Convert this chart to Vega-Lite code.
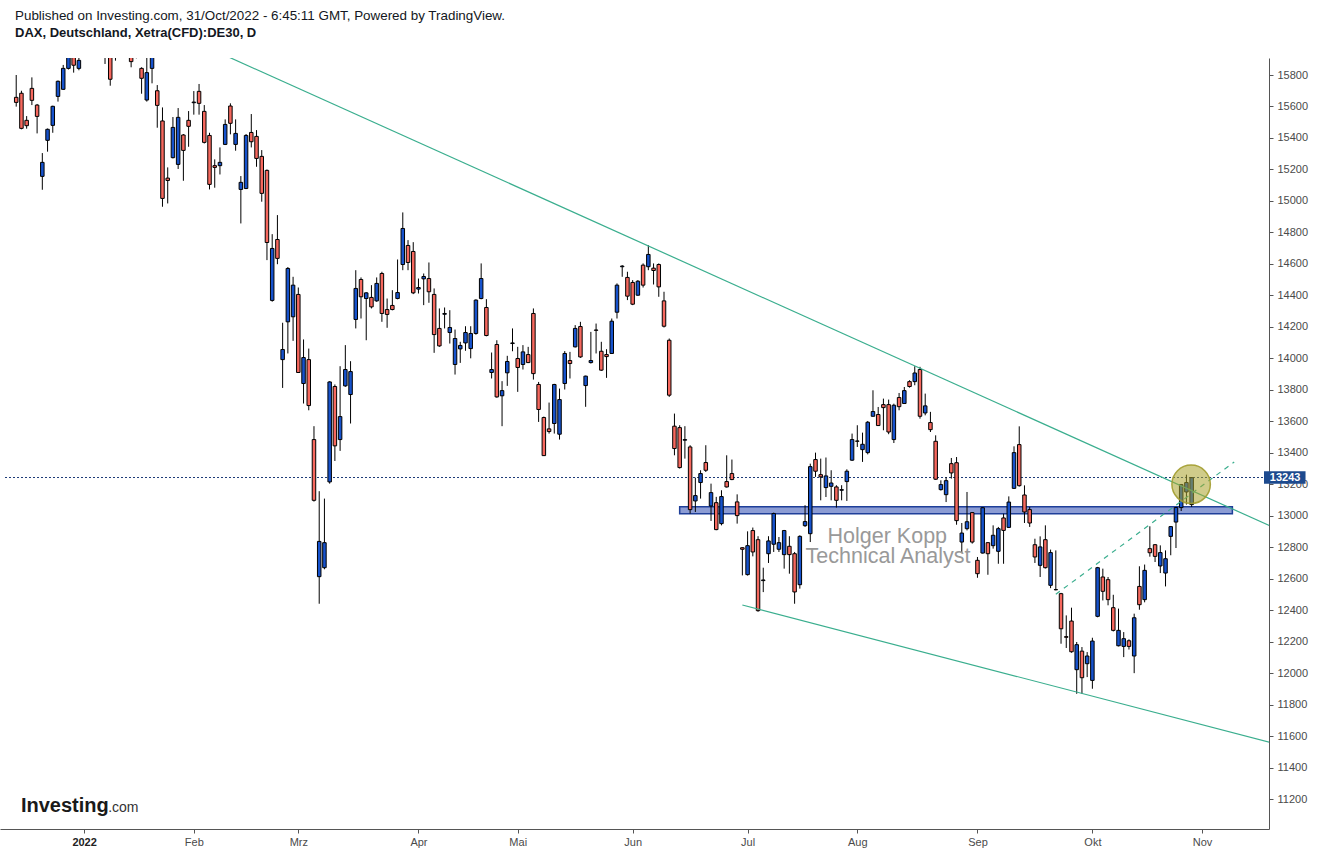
{
"$schema": "https://vega.github.io/schema/vega-lite/v6.json",
"width": 1269,
"height": 771,
"autosize": {"type": "none"},
"padding": {"left": 0, "top": 58, "right": 49, "bottom": 24},
"background": "white",
"title": {"text": "Published on Investing.com, 31/Oct/2022 - 6:45:11 GMT, Powered by TradingView.", "subtitle": "DAX, Deutschland, Xetra(CFD):DE30, D", "anchor": "start", "frame": "group", "dx": 15, "offset": 18, "font": "Liberation Sans", "fontSize": 13.4, "fontWeight": "normal", "color": "#131722", "subtitleFont": "Liberation Sans", "subtitleFontSize": 13, "subtitleFontWeight": "bold", "subtitleColor": "#131722", "subtitlePadding": 5},
"config": {"view": {"stroke": null}, "font": "Liberation Sans", "numberFormat": "d",
 "axis": {"grid": false, "title": null, "labelOverlap": false, "labelFlush": false, "labelFont": "Liberation Sans", "labelFontSize": 11, "labelColor": "#4a4a4a", "domainColor": "#555555", "tickColor": "#555555", "tickSize": 4},
 "axisY": {"labelPadding": 4},
 "axisX": {"labelPadding": 3}},
"datasets": {
"candles": [
{"d":"2021-12-13","i":0,"o":15658,"h":15800,"l":15599,"c":15626},
{"d":"2021-12-14","i":1,"o":15684,"h":15700,"l":15455,"c":15461},
{"d":"2021-12-15","i":2,"o":15512,"h":15539,"l":15459,"c":15478},
{"d":"2021-12-16","i":3,"o":15715,"h":15785,"l":15609,"c":15639},
{"d":"2021-12-17","i":4,"o":15609,"h":15616,"l":15429,"c":15537},
{"d":"2021-12-20","i":5,"o":15156,"h":15304,"l":15071,"c":15245},
{"d":"2021-12-21","i":6,"o":15385,"h":15460,"l":15313,"c":15455},
{"d":"2021-12-22","i":7,"o":15480,"h":15605,"l":15433,"c":15601},
{"d":"2021-12-23","i":8,"o":15664,"h":15765,"l":15631,"c":15760},
{"d":"2021-12-27","i":9,"o":15709,"h":15864,"l":15705,"c":15842},
{"d":"2021-12-28","i":10,"o":15842,"h":16000,"l":15835,"c":15964},
{"d":"2021-12-29","i":11,"o":15965,"h":16000,"l":15815,"c":15862},
{"d":"2021-12-30","i":12,"o":15842,"h":15960,"l":15830,"c":15893},
{"d":"2022-01-03","i":13,"o":15950,"h":16045,"l":15930,"c":16021},
{"d":"2022-01-04","i":14,"o":16060,"h":16200,"l":16040,"c":16152},
{"d":"2022-01-05","i":15,"o":16160,"h":16285,"l":16150,"c":16271},
{"d":"2022-01-06","i":16,"o":16200,"h":16220,"l":15980,"c":16052},
{"d":"2022-01-07","i":17,"o":16050,"h":16080,"l":15870,"c":15948},
{"d":"2022-01-10","i":18,"o":15950,"h":16000,"l":15732,"c":15773},
{"d":"2022-01-11","i":19,"o":15920,"h":15980,"l":15891,"c":15942},
{"d":"2022-01-12","i":20,"o":15990,"h":16080,"l":15960,"c":16010},
{"d":"2022-01-13","i":21,"o":16050,"h":16100,"l":15990,"c":16031},
{"d":"2022-01-14","i":22,"o":15990,"h":16010,"l":15849,"c":15885},
{"d":"2022-01-17","i":23,"o":15920,"h":15970,"l":15906,"c":15933},
{"d":"2022-01-18","i":24,"o":15842,"h":15849,"l":15681,"c":15779},
{"d":"2022-01-19","i":25,"o":15641,"h":15970,"l":15631,"c":15815},
{"d":"2022-01-20","i":26,"o":15842,"h":15960,"l":15747,"c":15912},
{"d":"2022-01-21","i":27,"o":15700,"h":15736,"l":15465,"c":15607},
{"d":"2022-01-24","i":28,"o":15508,"h":15594,"l":14963,"c":15016},
{"d":"2022-01-25","i":29,"o":15145,"h":15213,"l":14984,"c":15130},
{"d":"2022-01-26","i":30,"o":15275,"h":15533,"l":15270,"c":15467},
{"d":"2022-01-27","i":31,"o":15232,"h":15590,"l":15203,"c":15531},
{"d":"2022-01-28","i":32,"o":15419,"h":15425,"l":15128,"c":15321},
{"d":"2022-01-31","i":33,"o":15512,"h":15571,"l":15344,"c":15474},
{"d":"2022-02-01","i":34,"o":15624,"h":15698,"l":15548,"c":15628},
{"d":"2022-02-02","i":35,"o":15696,"h":15743,"l":15548,"c":15620},
{"d":"2022-02-03","i":36,"o":15569,"h":15609,"l":15365,"c":15372},
{"d":"2022-02-04","i":37,"o":15416,"h":15433,"l":15073,"c":15105},
{"d":"2022-02-07","i":38,"o":15224,"h":15264,"l":15084,"c":15213},
{"d":"2022-02-08","i":39,"o":15224,"h":15340,"l":15168,"c":15245},
{"d":"2022-02-09","i":40,"o":15359,"h":15518,"l":15355,"c":15486},
{"d":"2022-02-10","i":41,"o":15603,"h":15620,"l":15423,"c":15493},
{"d":"2022-02-11","i":42,"o":15359,"h":15518,"l":15319,"c":15429},
{"d":"2022-02-14","i":43,"o":15073,"h":15158,"l":14857,"c":15118},
{"d":"2022-02-15","i":44,"o":15079,"h":15425,"l":15075,"c":15416},
{"d":"2022-02-16","i":45,"o":15435,"h":15552,"l":15340,"c":15376},
{"d":"2022-02-17","i":46,"o":15410,"h":15450,"l":15217,"c":15270},
{"d":"2022-02-18","i":47,"o":15283,"h":15323,"l":14995,"c":15048},
{"d":"2022-02-21","i":48,"o":15194,"h":15200,"l":14624,"c":14736},
{"d":"2022-02-22","i":49,"o":14368,"h":14789,"l":14360,"c":14698},
{"d":"2022-02-23","i":50,"o":14755,"h":14910,"l":14598,"c":14635},
{"d":"2022-02-24","i":51,"o":13992,"h":14226,"l":13812,"c":14056},
{"d":"2022-02-25","i":52,"o":14232,"h":14580,"l":14031,"c":14571},
{"d":"2022-02-28","i":53,"o":14264,"h":14518,"l":14111,"c":14465},
{"d":"2022-03-01","i":54,"o":14406,"h":14450,"l":13908,"c":13910},
{"d":"2022-03-02","i":55,"o":13840,"h":14120,"l":13713,"c":14005},
{"d":"2022-03-03","i":56,"o":13992,"h":14062,"l":13670,"c":13700},
{"d":"2022-03-04","i":57,"o":13484,"h":13569,"l":13090,"c":13098},
{"d":"2022-03-07","i":58,"o":12613,"h":13156,"l":12441,"c":12837},
{"d":"2022-03-08","i":59,"o":12670,"h":13109,"l":12660,"c":12829},
{"d":"2022-03-09","i":60,"o":13215,"h":13855,"l":13204,"c":13850},
{"d":"2022-03-10","i":61,"o":13821,"h":13834,"l":13348,"c":13444},
{"d":"2022-03-11","i":62,"o":13484,"h":13950,"l":13412,"c":13630},
{"d":"2022-03-14","i":63,"o":13825,"h":14084,"l":13819,"c":13929},
{"d":"2022-03-15","i":64,"o":13770,"h":13982,"l":13586,"c":13916},
{"d":"2022-03-16","i":65,"o":14247,"h":14560,"l":14190,"c":14444},
{"d":"2022-03-17","i":66,"o":14501,"h":14514,"l":14253,"c":14391},
{"d":"2022-03-18","i":67,"o":14380,"h":14420,"l":14115,"c":14416},
{"d":"2022-03-21","i":68,"o":14387,"h":14465,"l":14317,"c":14327},
{"d":"2022-03-22","i":69,"o":14365,"h":14514,"l":14359,"c":14476},
{"d":"2022-03-23","i":70,"o":14539,"h":14550,"l":14232,"c":14285},
{"d":"2022-03-24","i":71,"o":14310,"h":14380,"l":14194,"c":14279},
{"d":"2022-03-25","i":72,"o":14336,"h":14433,"l":14305,"c":14310},
{"d":"2022-03-28","i":73,"o":14380,"h":14628,"l":14375,"c":14418},
{"d":"2022-03-29","i":74,"o":14596,"h":14927,"l":14560,"c":14825},
{"d":"2022-03-30","i":75,"o":14717,"h":14751,"l":14560,"c":14609},
{"d":"2022-03-31","i":76,"o":14679,"h":14738,"l":14408,"c":14416},
{"d":"2022-04-01","i":77,"o":14440,"h":14507,"l":14412,"c":14450},
{"d":"2022-04-04","i":78,"o":14505,"h":14539,"l":14338,"c":14520},
{"d":"2022-04-05","i":79,"o":14507,"h":14609,"l":14353,"c":14423},
{"d":"2022-04-06","i":80,"o":14406,"h":14444,"l":14035,"c":14151},
{"d":"2022-04-07","i":81,"o":14190,"h":14317,"l":14073,"c":14079},
{"d":"2022-04-08","i":82,"o":14280,"h":14323,"l":14190,"c":14285},
{"d":"2022-04-11","i":83,"o":14164,"h":14306,"l":14094,"c":14196},
{"d":"2022-04-12","i":84,"o":13961,"h":14183,"l":13897,"c":14126},
{"d":"2022-04-13","i":85,"o":14060,"h":14105,"l":13971,"c":14082},
{"d":"2022-04-14","i":86,"o":14098,"h":14204,"l":14048,"c":14164},
{"d":"2022-04-19","i":87,"o":14062,"h":14204,"l":14000,"c":14158},
{"d":"2022-04-20","i":88,"o":14158,"h":14375,"l":14150,"c":14370},
{"d":"2022-04-21","i":89,"o":14380,"h":14603,"l":14375,"c":14507},
{"d":"2022-04-22","i":90,"o":14323,"h":14376,"l":14140,"c":14145},
{"d":"2022-04-25","i":91,"o":13910,"h":14037,"l":13872,"c":13929},
{"d":"2022-04-26","i":92,"o":14088,"h":14115,"l":13750,"c":13755},
{"d":"2022-04-27","i":93,"o":13762,"h":13855,"l":13569,"c":13795},
{"d":"2022-04-28","i":94,"o":13908,"h":14016,"l":13825,"c":13980},
{"d":"2022-04-29","i":95,"o":14094,"h":14190,"l":14045,"c":14098},
{"d":"2022-05-02","i":96,"o":13999,"h":14073,"l":13787,"c":13942},
{"d":"2022-05-03","i":97,"o":13961,"h":14084,"l":13929,"c":14041},
{"d":"2022-05-04","i":98,"o":14024,"h":14073,"l":13970,"c":13973},
{"d":"2022-05-05","i":99,"o":14285,"h":14317,"l":13865,"c":13903},
{"d":"2022-05-06","i":100,"o":13834,"h":13850,"l":13596,"c":13675},
{"d":"2022-05-09","i":101,"o":13624,"h":13630,"l":13380,"c":13382},
{"d":"2022-05-10","i":102,"o":13552,"h":13719,"l":13522,"c":13535},
{"d":"2022-05-11","i":103,"o":13586,"h":13838,"l":13522,"c":13834},
{"d":"2022-05-12","i":104,"o":13518,"h":13808,"l":13484,"c":13738},
{"d":"2022-05-13","i":105,"o":13840,"h":14046,"l":13802,"c":14031},
{"d":"2022-05-16","i":106,"o":13986,"h":14041,"l":13872,"c":13967},
{"d":"2022-05-17","i":107,"o":14073,"h":14211,"l":14069,"c":14190},
{"d":"2022-05-18","i":108,"o":14202,"h":14232,"l":14003,"c":14009},
{"d":"2022-05-19","i":109,"o":13827,"h":13890,"l":13692,"c":13887},
{"d":"2022-05-20","i":110,"o":13973,"h":14168,"l":13967,"c":13986},
{"d":"2022-05-23","i":111,"o":14180,"h":14221,"l":14031,"c":14178},
{"d":"2022-05-24","i":112,"o":14045,"h":14105,"l":13920,"c":13925},
{"d":"2022-05-25","i":113,"o":14024,"h":14058,"l":13876,"c":14011},
{"d":"2022-05-26","i":114,"o":14031,"h":14253,"l":14028,"c":14236},
{"d":"2022-05-27","i":115,"o":14293,"h":14476,"l":14253,"c":14465},
{"d":"2022-05-30","i":116,"o":14582,"h":14592,"l":14518,"c":14586},
{"d":"2022-05-31","i":117,"o":14514,"h":14550,"l":14370,"c":14395},
{"d":"2022-06-01","i":118,"o":14482,"h":14497,"l":14338,"c":14344},
{"d":"2022-06-02","i":119,"o":14401,"h":14497,"l":14398,"c":14490},
{"d":"2022-06-03","i":120,"o":14592,"h":14603,"l":14450,"c":14465},
{"d":"2022-06-06","i":121,"o":14582,"h":14719,"l":14560,"c":14660},
{"d":"2022-06-07","i":122,"o":14573,"h":14603,"l":14469,"c":14558},
{"d":"2022-06-08","i":123,"o":14596,"h":14603,"l":14391,"c":14454},
{"d":"2022-06-09","i":124,"o":14365,"h":14423,"l":14196,"c":14204},
{"d":"2022-06-10","i":125,"o":14115,"h":14126,"l":13755,"c":13766},
{"d":"2022-06-13","i":126,"o":13569,"h":13649,"l":13384,"c":13427},
{"d":"2022-06-14","i":127,"o":13560,"h":13575,"l":13300,"c":13306},
{"d":"2022-06-15","i":128,"o":13480,"h":13569,"l":13363,"c":13484},
{"d":"2022-06-16","i":129,"o":13437,"h":13448,"l":13014,"c":13039},
{"d":"2022-06-17","i":130,"o":13094,"h":13242,"l":13024,"c":13128},
{"d":"2022-06-20","i":131,"o":13211,"h":13289,"l":13109,"c":13268},
{"d":"2022-06-21","i":132,"o":13338,"h":13448,"l":13278,"c":13289},
{"d":"2022-06-22","i":133,"o":13062,"h":13204,"l":12967,"c":13147},
{"d":"2022-06-23","i":134,"o":13083,"h":13120,"l":12908,"c":12912},
{"d":"2022-06-24","i":135,"o":12950,"h":13162,"l":12939,"c":13122},
{"d":"2022-06-27","i":136,"o":13217,"h":13384,"l":13179,"c":13183},
{"d":"2022-06-28","i":137,"o":13268,"h":13357,"l":13226,"c":13230},
{"d":"2022-06-29","i":138,"o":13088,"h":13136,"l":12950,"c":13001},
{"d":"2022-06-30","i":139,"o":12797,"h":12800,"l":12621,"c":12787},
{"d":"2022-07-01","i":140,"o":12626,"h":12901,"l":12620,"c":12810},
{"d":"2022-07-04","i":141,"o":12906,"h":12925,"l":12742,"c":12770},
{"d":"2022-07-05","i":142,"o":12848,"h":12870,"l":12390,"c":12397},
{"d":"2022-07-06","i":143,"o":12588,"h":12670,"l":12515,"c":12592},
{"d":"2022-07-07","i":144,"o":12759,"h":12870,"l":12700,"c":12840},
{"d":"2022-07-08","i":145,"o":12819,"h":13020,"l":12770,"c":13014},
{"d":"2022-07-11","i":146,"o":12787,"h":12865,"l":12770,"c":12829},
{"d":"2022-07-12","i":147,"o":12753,"h":12910,"l":12664,"c":12906},
{"d":"2022-07-13","i":148,"o":12806,"h":12870,"l":12632,"c":12753},
{"d":"2022-07-14","i":149,"o":12759,"h":12770,"l":12441,"c":12516},
{"d":"2022-07-15","i":150,"o":12562,"h":12876,"l":12537,"c":12869},
{"d":"2022-07-18","i":151,"o":12937,"h":13067,"l":12929,"c":12963},
{"d":"2022-07-19","i":152,"o":12886,"h":13331,"l":12833,"c":13312},
{"d":"2022-07-20","i":153,"o":13357,"h":13401,"l":13247,"c":13283},
{"d":"2022-07-21","i":154,"o":13261,"h":13363,"l":13098,"c":13247},
{"d":"2022-07-22","i":155,"o":13179,"h":13370,"l":13119,"c":13253},
{"d":"2022-07-25","i":156,"o":13187,"h":13289,"l":13098,"c":13208},
{"d":"2022-07-26","i":157,"o":13183,"h":13194,"l":13052,"c":13098},
{"d":"2022-07-27","i":158,"o":13162,"h":13194,"l":13098,"c":13166},
{"d":"2022-07-28","i":159,"o":13217,"h":13295,"l":13094,"c":13283},
{"d":"2022-07-29","i":160,"o":13353,"h":13522,"l":13348,"c":13484},
{"d":"2022-08-01","i":161,"o":13475,"h":13575,"l":13437,"c":13473},
{"d":"2022-08-02","i":162,"o":13420,"h":13528,"l":13342,"c":13454},
{"d":"2022-08-03","i":163,"o":13401,"h":13602,"l":13390,"c":13594},
{"d":"2022-08-04","i":164,"o":13632,"h":13797,"l":13630,"c":13662},
{"d":"2022-08-05","i":165,"o":13643,"h":13691,"l":13570,"c":13573},
{"d":"2022-08-08","i":166,"o":13706,"h":13744,"l":13543,"c":13687},
{"d":"2022-08-09","i":167,"o":13706,"h":13738,"l":13518,"c":13532},
{"d":"2022-08-10","i":168,"o":13484,"h":13712,"l":13462,"c":13702},
{"d":"2022-08-11","i":169,"o":13751,"h":13780,"l":13670,"c":13693},
{"d":"2022-08-12","i":170,"o":13713,"h":13818,"l":13710,"c":13795},
{"d":"2022-08-15","i":171,"o":13852,"h":13861,"l":13814,"c":13821},
{"d":"2022-08-16","i":172,"o":13852,"h":13950,"l":13829,"c":13907},
{"d":"2022-08-17","i":173,"o":13929,"h":13946,"l":13617,"c":13632},
{"d":"2022-08-18","i":174,"o":13653,"h":13776,"l":13638,"c":13698},
{"d":"2022-08-19","i":175,"o":13592,"h":13660,"l":13532,"c":13547},
{"d":"2022-08-22","i":176,"o":13473,"h":13511,"l":13228,"c":13232},
{"d":"2022-08-23","i":177,"o":13166,"h":13225,"l":13160,"c":13198},
{"d":"2022-08-24","i":178,"o":13134,"h":13246,"l":13087,"c":13223},
{"d":"2022-08-25","i":179,"o":13331,"h":13367,"l":13236,"c":13272},
{"d":"2022-08-26","i":180,"o":13337,"h":13373,"l":12943,"c":12969},
{"d":"2022-08-29","i":181,"o":12833,"h":12954,"l":12763,"c":12890},
{"d":"2022-08-30","i":182,"o":12918,"h":13151,"l":12907,"c":12962},
{"d":"2022-08-31","i":183,"o":13020,"h":13024,"l":12823,"c":12833},
{"d":"2022-09-01","i":184,"o":12717,"h":12738,"l":12606,"c":12632},
{"d":"2022-09-02","i":185,"o":12763,"h":13055,"l":12760,"c":13051},
{"d":"2022-09-05","i":186,"o":12829,"h":12833,"l":12625,"c":12759},
{"d":"2022-09-06","i":187,"o":12810,"h":12939,"l":12791,"c":12876},
{"d":"2022-09-07","i":188,"o":12774,"h":12929,"l":12695,"c":12918},
{"d":"2022-09-08","i":189,"o":12986,"h":13013,"l":12695,"c":12907},
{"d":"2022-09-09","i":190,"o":12926,"h":13123,"l":12922,"c":13087},
{"d":"2022-09-12","i":191,"o":13174,"h":13441,"l":13170,"c":13401},
{"d":"2022-09-13","i":192,"o":13452,"h":13568,"l":13185,"c":13191},
{"d":"2022-09-14","i":193,"o":13132,"h":13193,"l":12954,"c":13024},
{"d":"2022-09-15","i":194,"o":13039,"h":13056,"l":12929,"c":12954},
{"d":"2022-09-16","i":195,"o":12816,"h":12854,"l":12700,"c":12738},
{"d":"2022-09-19","i":196,"o":12685,"h":12869,"l":12611,"c":12802},
{"d":"2022-09-20","i":197,"o":12848,"h":12939,"l":12665,"c":12670},
{"d":"2022-09-21","i":198,"o":12558,"h":12785,"l":12540,"c":12766},
{"d":"2022-09-22","i":199,"o":12531,"h":12780,"l":12526,"c":12530},
{"d":"2022-09-23","i":200,"o":12505,"h":12510,"l":12187,"c":12282},
{"d":"2022-09-26","i":201,"o":12232,"h":12367,"l":12160,"c":12228},
{"d":"2022-09-27","i":202,"o":12331,"h":12416,"l":12130,"c":12136},
{"d":"2022-09-28","i":203,"o":12022,"h":12198,"l":11869,"c":12181},
{"d":"2022-09-29","i":204,"o":12140,"h":12166,"l":11869,"c":11971},
{"d":"2022-09-30","i":205,"o":12060,"h":12134,"l":11975,"c":12109},
{"d":"2022-10-03","i":206,"o":11954,"h":12225,"l":11901,"c":12204},
{"d":"2022-10-04","i":207,"o":12361,"h":12675,"l":12355,"c":12670},
{"d":"2022-10-05","i":208,"o":12611,"h":12664,"l":12462,"c":12520},
{"d":"2022-10-06","i":209,"o":12594,"h":12611,"l":12431,"c":12467},
{"d":"2022-10-07","i":210,"o":12416,"h":12498,"l":12265,"c":12272},
{"d":"2022-10-10","i":211,"o":12174,"h":12410,"l":12170,"c":12272},
{"d":"2022-10-11","i":212,"o":12170,"h":12261,"l":12102,"c":12219},
{"d":"2022-10-12","i":213,"o":12206,"h":12215,"l":12150,"c":12170},
{"d":"2022-10-13","i":214,"o":12109,"h":12378,"l":12000,"c":12352},
{"d":"2022-10-14","i":215,"o":12551,"h":12679,"l":12403,"c":12435},
{"d":"2022-10-17","i":216,"o":12467,"h":12690,"l":12450,"c":12653},
{"d":"2022-10-18","i":217,"o":12791,"h":12933,"l":12740,"c":12765},
{"d":"2022-10-19","i":218,"o":12816,"h":12820,"l":12706,"c":12742},
{"d":"2022-10-20","i":219,"o":12681,"h":12812,"l":12636,"c":12766},
{"d":"2022-10-21","i":220,"o":12636,"h":12780,"l":12551,"c":12727},
{"d":"2022-10-24","i":221,"o":12869,"h":12935,"l":12749,"c":12931},
{"d":"2022-10-25","i":222,"o":12960,"h":13056,"l":12795,"c":13052},
{"d":"2022-10-26","i":223,"o":13052,"h":13202,"l":13030,"c":13198},
{"d":"2022-10-27","i":224,"o":13151,"h":13261,"l":13071,"c":13211},
{"d":"2022-10-28","i":225,"o":13071,"h":13246,"l":13056,"c":13242}
],
"trend": [
{"g":"upper","i":35,"p":15999},
{"g":"upper","i":245,"p":12861},
{"g":"lower","i":139,"p":12433},
{"g":"lower","i":245,"p":11517}
],
"dashed": [
{"i":199,"p":12501},
{"i":233.15,"p":13342}
],
"zone": [{"i":127,"i2":232.8,"lo":13013,"hi":13057}],
"circle": [{"i":224.9,"p":13200}],
"watermark": [
{"t":"Holger Kopp","i":155.3,"p":12826},
{"t":"Technical Analyst","i":151.1,"p":12697}
],
"logo": [{"t":"Investing","i":0.9,"p":11115}],
"logo2": [{"t":".com","i":17.6,"p":11115}],
"last": [{"p":13243,"t":"13243"}]
},
"layer": [
{"data":{"name":"last"},"mark":{"type":"rule","color":"#1e3c78","strokeWidth":1,"strokeDash":[2,2]},
 "encoding":{
  "x":{"datum":-2.145,"type":"quantitative","scale":{"domain":[-2.145,238.85],"nice":false,"zero":false},
   "axis":{"orient":"bottom","values":[13,34,54,77,96,118,140,161,184,206,227],
   "labelExpr":"datum.value == 13 ? '2022' : datum.value == 34 ? 'Feb' : datum.value == 54 ? 'Mrz' : datum.value == 77 ? 'Apr' : datum.value == 96 ? 'Mai' : datum.value == 118 ? 'Jun' : datum.value == 140 ? 'Jul' : datum.value == 161 ? 'Aug' : datum.value == 184 ? 'Sep' : datum.value == 206 ? 'Okt' : 'Nov'",
   "labelColor":{"condition":{"test":"datum.value == 13","value":"#222222"},"value":"#4a4a4a"},"labelFontWeight":{"condition":{"test":"datum.value == 13","value":"bold"},"value":"normal"}}},
  "x2":{"datum":238.85},
  "y":{"field":"p","type":"quantitative","scale":{"domain":[11010,15908],"nice":false,"zero":false},
   "axis":{"orient":"right","format":"d","values":[11200,11400,11600,11800,12000,12200,12400,12600,12800,13000,13200,13400,13600,13800,14000,14200,14400,14600,14800,15000,15200,15400,15600,15800]}}}},
{"data":{"name":"zone"},"mark":{"type":"rect","fill":"#8c9cd4","stroke":"#1f3f99","strokeWidth":1.5,"clip":true},
 "encoding":{"x":{"field":"i","type":"quantitative"},"x2":{"field":"i2"},
  "y":{"field":"lo","type":"quantitative","axis":{"orient":"right","format":"d","values":[11200,11400,11600,11800,12000,12200,12400,12600,12800,13000,13200,13400,13600,13800,14000,14200,14400,14600,14800,15000,15200,15400,15600,15800]}},"y2":{"field":"hi"}}},
{"data":{"name":"candles"},"mark":{"type":"rule","color":"#000000","strokeWidth":1,"clip":true},
 "encoding":{"x":{"field":"i","type":"quantitative"},
  "y":{"field":"l","type":"quantitative","axis":{"orient":"right","format":"d","values":[11200,11400,11600,11800,12000,12200,12400,12600,12800,13000,13200,13400,13600,13800,14000,14200,14400,14600,14800,15000,15200,15400,15600,15800]}},"y2":{"field":"h"}}},
{"data":{"name":"candles"},"mark":{"type":"bar","size":3.5,"stroke":"#000000","strokeWidth":1,"clip":true},
 "encoding":{"x":{"field":"i","type":"quantitative"},
  "y":{"field":"o","type":"quantitative","axis":{"orient":"right","format":"d","values":[11200,11400,11600,11800,12000,12200,12400,12600,12800,13000,13200,13400,13600,13800,14000,14200,14400,14600,14800,15000,15200,15400,15600,15800]}},"y2":{"field":"c"},
  "fill":{"condition":{"test":"datum.c >= datum.o","value":"#1652cc"},"value":"#f6685e"}}},
{"data":{"name":"trend"},"mark":{"type":"line","color":"#3aae8e","strokeWidth":1.2,"clip":true},
 "encoding":{"x":{"field":"i","type":"quantitative"},
  "y":{"field":"p","type":"quantitative","axis":{"orient":"right","format":"d","values":[11200,11400,11600,11800,12000,12200,12400,12600,12800,13000,13200,13400,13600,13800,14000,14200,14400,14600,14800,15000,15200,15400,15600,15800]}},"detail":{"field":"g"}}},
{"data":{"name":"dashed"},"mark":{"type":"line","color":"#3aae8e","strokeWidth":1.2,"strokeDash":[5,5],"clip":true},
 "encoding":{"x":{"field":"i","type":"quantitative"},
  "y":{"field":"p","type":"quantitative","axis":{"orient":"right","format":"d","values":[11200,11400,11600,11800,12000,12200,12400,12600,12800,13000,13200,13400,13600,13800,14000,14200,14400,14600,14800,15000,15200,15400,15600,15800]}}}},
{"data":{"name":"circle"},"mark":{"type":"point","filled":true,"shape":"circle","size":1480,"fill":"#aaa32a","fillOpacity":0.55,"stroke":"#a29c2e","strokeWidth":1.5,"strokeOpacity":0.9},
 "encoding":{"x":{"field":"i","type":"quantitative"},
  "y":{"field":"p","type":"quantitative","axis":{"orient":"right","format":"d","values":[11200,11400,11600,11800,12000,12200,12400,12600,12800,13000,13200,13400,13600,13800,14000,14200,14400,14600,14800,15000,15200,15400,15600,15800]}}}},
{"data":{"name":"watermark"},"mark":{"type":"text","align":"left","baseline":"alphabetic","fontSize":21.5,"font":"Liberation Sans","color":"#999999"},
 "encoding":{"x":{"field":"i","type":"quantitative"},
  "y":{"field":"p","type":"quantitative","axis":{"orient":"right","format":"d","values":[11200,11400,11600,11800,12000,12200,12400,12600,12800,13000,13200,13400,13600,13800,14000,14200,14400,14600,14800,15000,15200,15400,15600,15800]}},"text":{"field":"t"}}},
{"data":{"name":"logo"},"mark":{"type":"text","align":"left","baseline":"alphabetic","fontSize":20,"fontWeight":"bold","font":"Liberation Sans","color":"#1a1a1a"},
 "encoding":{"x":{"field":"i","type":"quantitative"},
  "y":{"field":"p","type":"quantitative","axis":{"orient":"right","format":"d","values":[11200,11400,11600,11800,12000,12200,12400,12600,12800,13000,13200,13400,13600,13800,14000,14200,14400,14600,14800,15000,15200,15400,15600,15800]}},"text":{"field":"t"}}},
{"data":{"name":"logo2"},"mark":{"type":"text","align":"left","baseline":"alphabetic","fontSize":14,"font":"Liberation Sans","color":"#333333"},
 "encoding":{"x":{"field":"i","type":"quantitative"},
  "y":{"field":"p","type":"quantitative","axis":{"orient":"right","format":"d","values":[11200,11400,11600,11800,12000,12200,12400,12600,12800,13000,13200,13400,13600,13800,14000,14200,14400,14600,14800,15000,15200,15400,15600,15800]}},"text":{"field":"t"}}},
{"data":{"name":"last"},"mark":{"type":"rect","fill":"#1d4a8e","clip":false},
 "encoding":{"x":{"datum":238.85,"type":"quantitative"},"x2":{"datum":246.8},
  "y":{"datum":13203,"type":"quantitative","axis":{"orient":"right","format":"d","values":[11200,11400,11600,11800,12000,12200,12400,12600,12800,13000,13200,13400,13600,13800,14000,14200,14400,14600,14800,15000,15200,15400,15600,15800]}},"y2":{"datum":13283}}},
{"data":{"name":"last"},"mark":{"type":"text","align":"center","baseline":"middle","fontSize":11,"fontWeight":"bold","font":"Liberation Sans","color":"#ffffff","clip":false},
 "encoding":{"x":{"datum":242.9,"type":"quantitative"},
  "y":{"field":"p","type":"quantitative","axis":{"orient":"right","format":"d","values":[11200,11400,11600,11800,12000,12200,12400,12600,12800,13000,13200,13400,13600,13800,14000,14200,14400,14600,14800,15000,15200,15400,15600,15800]}},"text":{"field":"t"}}}
]
}
